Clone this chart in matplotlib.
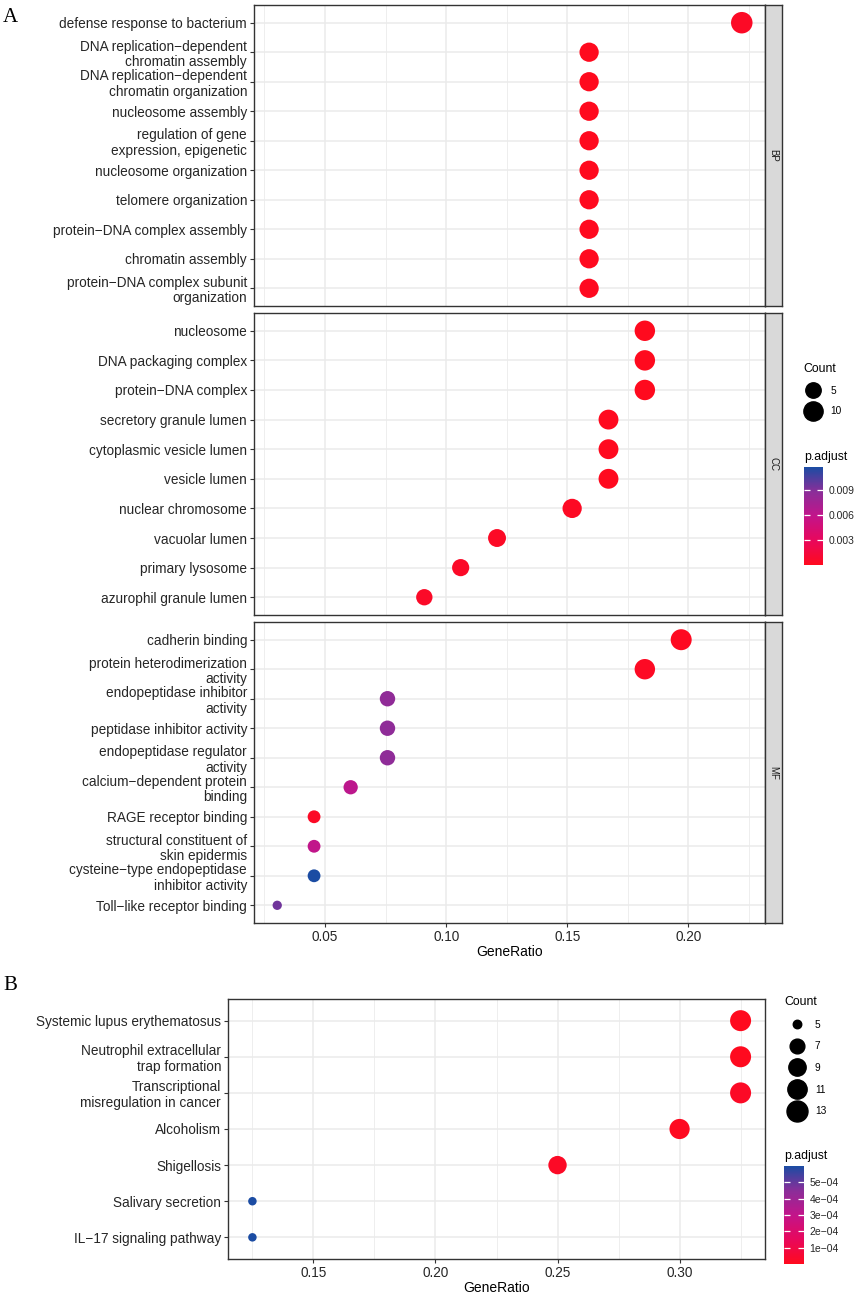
import numpy as np
import matplotlib.pyplot as plt
from matplotlib.colors import LinearSegmentedColormap, Normalize
from matplotlib.cm import ScalarMappable
from matplotlib.lines import Line2D
from matplotlib.ticker import MultipleLocator

plt.rcParams['font.family'] = ['Liberation Sans', 'DejaVu Sans']

# ---------- data: panel A (GO) ----------
bp_terms = ["defense response to bacterium",
            "DNA replication\u2212dependent\nchromatin assembly",
            "DNA replication\u2212dependent\nchromatin organization",
            "nucleosome assembly",
            "regulation of gene\nexpression, epigenetic",
            "nucleosome organization",
            "telomere organization",
            "protein\u2212DNA complex assembly",
            "chromatin assembly",
            "protein\u2212DNA complex subunit\norganization"]
bp_ratio = [0.222, 0.159, 0.159, 0.159, 0.159, 0.159, 0.159, 0.159, 0.159, 0.159]
bp_count = [14, 10, 10, 10, 10, 10, 10, 10, 10, 10]
bp_padj = [0.0004, 0.00002, 0.00002, 0.00003, 0.00005, 0.00005, 0.00008, 0.0001, 0.0001, 0.00012]

cc_terms = ["nucleosome", "DNA packaging complex", "protein\u2212DNA complex",
            "secretory granule lumen", "cytoplasmic vesicle lumen", "vesicle lumen",
            "nuclear chromosome", "vacuolar lumen", "primary lysosome",
            "azurophil granule lumen"]
cc_ratio = [0.182, 0.182, 0.182, 0.167, 0.167, 0.167, 0.152, 0.121, 0.106, 0.091]
cc_count = [12, 12, 12, 11, 11, 11, 10, 8, 7, 6]
cc_padj = [0.00003, 0.00004, 0.00006, 0.0001, 0.0001, 0.0001, 0.0003, 0.0004, 0.0005, 0.0005]

mf_terms = ["cadherin binding",
            "protein heterodimerization\nactivity",
            "endopeptidase inhibitor\nactivity",
            "peptidase inhibitor activity",
            "endopeptidase regulator\nactivity",
            "calcium\u2212dependent protein\nbinding",
            "RAGE receptor binding",
            "structural constituent of\nskin epidermis",
            "cysteine\u2212type endopeptidase\ninhibitor activity",
            "Toll\u2212like receptor binding"]
mf_ratio = [0.197, 0.182, 0.0758, 0.0758, 0.0758, 0.0606, 0.0455, 0.0455, 0.0455, 0.0303]
mf_count = [13, 12, 5, 5, 5, 4, 3, 3, 3, 2]
mf_padj = [0.0002, 0.0003, 0.0085, 0.0086, 0.0086, 0.0062, 0.0004, 0.0060, 0.0118, 0.0095]

facet_names = ["BP", "CC", "MF"]

# ---------- data: panel B (KEGG) ----------
kegg_terms = ["Systemic lupus erythematosus",
              "Neutrophil extracellular\ntrap formation",
              "Transcriptional\nmisregulation in cancer",
              "Alcoholism",
              "Shigellosis",
              "Salivary secretion",
              "IL\u221217 signaling pathway"]
kegg_ratio = [0.325, 0.325, 0.325, 0.300, 0.250, 0.125, 0.125]
kegg_count = [13, 13, 13, 12, 10, 5, 5]
kegg_padj = [0.000001, 0.000004, 0.00002, 0.00001, 0.00002, 0.00060, 0.00060]

a_size_breaks = [5, 10]
b_size_breaks = [5, 7, 9, 11, 13]
a_bar_ticks = [0.003, 0.006, 0.009]
b_bar_ticks = [1e-4, 2e-4, 3e-4, 4e-4, 5e-4]
b_bar_labels = ["1e\u221204", "2e\u221204", "3e\u221204", "4e\u221204", "5e\u221204"]

# ---------- figure ----------
W, H = 858, 1293
fig = plt.figure(figsize=(W / 100, H / 100), dpi=100)


def box(l, t, r, b):
    return [l / W, 1 - b / H, (r - l) / W, (b - t) / H]


cmap = LinearSegmentedColormap.from_list(
    'padj', ['#FF0A1E', '#E8085C', '#C2148A', '#8A2E99', '#1B4CA3'])

DARK = '#262626'
GRID = '#EBEBEB'
BORDER = '#333333'


def diam(count, cmin, cmax, dmin, dmax):
    # dot diameter in pixels, area-like scaling as in ggplot
    c = np.asarray(count, dtype=float)
    return dmin + (dmax - dmin) * np.sqrt((c - cmin) / (cmax - cmin))


def expand(vals):
    lo, hi = min(vals), max(vals)
    pad = 0.05 * (hi - lo)
    return lo - pad, hi + pad


def dot_panel(ax, terms, ratio, dsize, padj, norm, xlim):
    n = len(terms)
    y = np.arange(n)[::-1]
    ax.scatter(ratio, y, s=(dsize * 0.72) ** 2, c=padj, cmap=cmap, norm=norm,
               edgecolors='none', zorder=3)
    ax.set_yticks(y)
    ax.set_yticklabels(terms, linespacing=1.15)
    ax.set_ylim(-0.6, n - 0.4)
    ax.set_xlim(xlim)
    ax.xaxis.set_major_locator(MultipleLocator(0.05))
    ax.xaxis.set_minor_locator(MultipleLocator(0.025))
    ax.grid(which='major', color=GRID, lw=1.1)
    ax.grid(which='minor', axis='x', color=GRID, lw=0.6)
    ax.set_axisbelow(True)
    for s in ax.spines.values():
        s.set_color(BORDER)
        s.set_linewidth(1.0)
    ax.tick_params(axis='both', which='major', length=3, width=0.8, color=BORDER,
                   labelsize=9.8, labelcolor=DARK, pad=2)
    ax.tick_params(which='minor', length=0)


# ---------- panel A ----------
a_all_ratio = bp_ratio + cc_ratio + mf_ratio
a_all_count = bp_count + cc_count + mf_count
a_all_padj = bp_padj + cc_padj + mf_padj
a_norm = Normalize(min(a_all_padj), max(a_all_padj))
a_xlim = expand(a_all_ratio)
a_cmin, a_cmax = min(a_all_count), max(a_all_count)

facet_rows = [(5, 306), (313, 615), (622, 923)]
facet_data = [(bp_terms, bp_ratio, bp_count, bp_padj),
              (cc_terms, cc_ratio, cc_count, cc_padj),
              (mf_terms, mf_ratio, mf_count, mf_padj)]

for k, ((top, bot), (terms, ratio, count, padj)) in enumerate(zip(facet_rows, facet_data)):
    ax = fig.add_axes(box(254, top, 765, bot))
    dot_panel(ax, terms, ratio, diam(count, a_cmin, a_cmax, 9.3, 21.5), padj, a_norm, a_xlim)
    if k < 2:
        ax.tick_params(axis='x', labelbottom=False, bottom=False)
    else:
        ax.set_xlabel('GeneRatio', fontsize=10, color='black', labelpad=1)
    strip = fig.add_axes(box(765, top, 782, bot))
    strip.set_facecolor('#D9D9D9')
    strip.set_xticks([])
    strip.set_yticks([])
    for s in strip.spines.values():
        s.set_color(BORDER)
        s.set_linewidth(1.0)
    strip.text(0.5, 0.5, facet_names[k], rotation=-90, ha='center', va='center',
               fontsize=7, color='#1A1A1A', transform=strip.transAxes)

# ---------- panel B ----------
b_norm = Normalize(min(kegg_padj), max(kegg_padj))
b_cmin, b_cmax = min(kegg_count), max(kegg_count)
axb = fig.add_axes(box(228, 999, 765, 1259))
dot_panel(axb, kegg_terms, kegg_ratio, diam(kegg_count, b_cmin, b_cmax, 8.5, 21),
          kegg_padj, b_norm, expand(kegg_ratio))
axb.set_xlabel('GeneRatio', fontsize=10, color='black', labelpad=1)

# ---------- legends ----------
def count_legend(breaks, dvals, x, y, textpad, hlen, spacing):
    handles = [Line2D([], [], ls='', marker='o', color='black', markersize=d * 0.72)
               for d in dvals]
    fig.legend(handles, [str(b) for b in breaks], title='Count', loc='upper left',
               bbox_to_anchor=(x / W, 1 - y / H), frameon=False, fontsize=7.3,
               title_fontsize=8.8, alignment='left', handletextpad=textpad,
               handlelength=hlen, labelspacing=spacing, borderpad=0,
               borderaxespad=0)


def padj_bar(norm, ticks, labels, rect):
    cax = fig.add_axes(rect)
    cb = fig.colorbar(ScalarMappable(norm=norm, cmap=cmap), cax=cax)
    cb.outline.set_visible(False)
    cb.set_ticks(ticks, labels=labels)
    cax.tick_params(direction='in', length=4, width=0.9, color='white',
                    left=True, right=True, labelsize=7.5, labelcolor=DARK, pad=4)
    cax.set_title('p.adjust', loc='left', fontsize=8.8, pad=5)


count_legend(a_size_breaks, diam(a_size_breaks, a_cmin, a_cmax, 9.3, 21.5),
             803, 363, 0.7, 2.0, 1.05)
padj_bar(a_norm, a_bar_ticks, [f"{t:.3f}" for t in a_bar_ticks], box(804, 467, 823, 565))

count_legend(b_size_breaks, diam(b_size_breaks, b_cmin, b_cmax, 8.5, 21),
             784, 996, 0.45, 2.6, 1.15)
padj_bar(b_norm, b_bar_ticks, b_bar_labels, box(784, 1166, 804, 1264))

# panel letters
fig.text(3 / W, 1 - 18 / H, 'A', family='Liberation Serif', fontsize=15, va='center', ha='left')
fig.text(3 / W, 1 - 986 / H, 'B', family='Liberation Serif', fontsize=15, va='center', ha='left')

fig.savefig('out.png', dpi=100)
